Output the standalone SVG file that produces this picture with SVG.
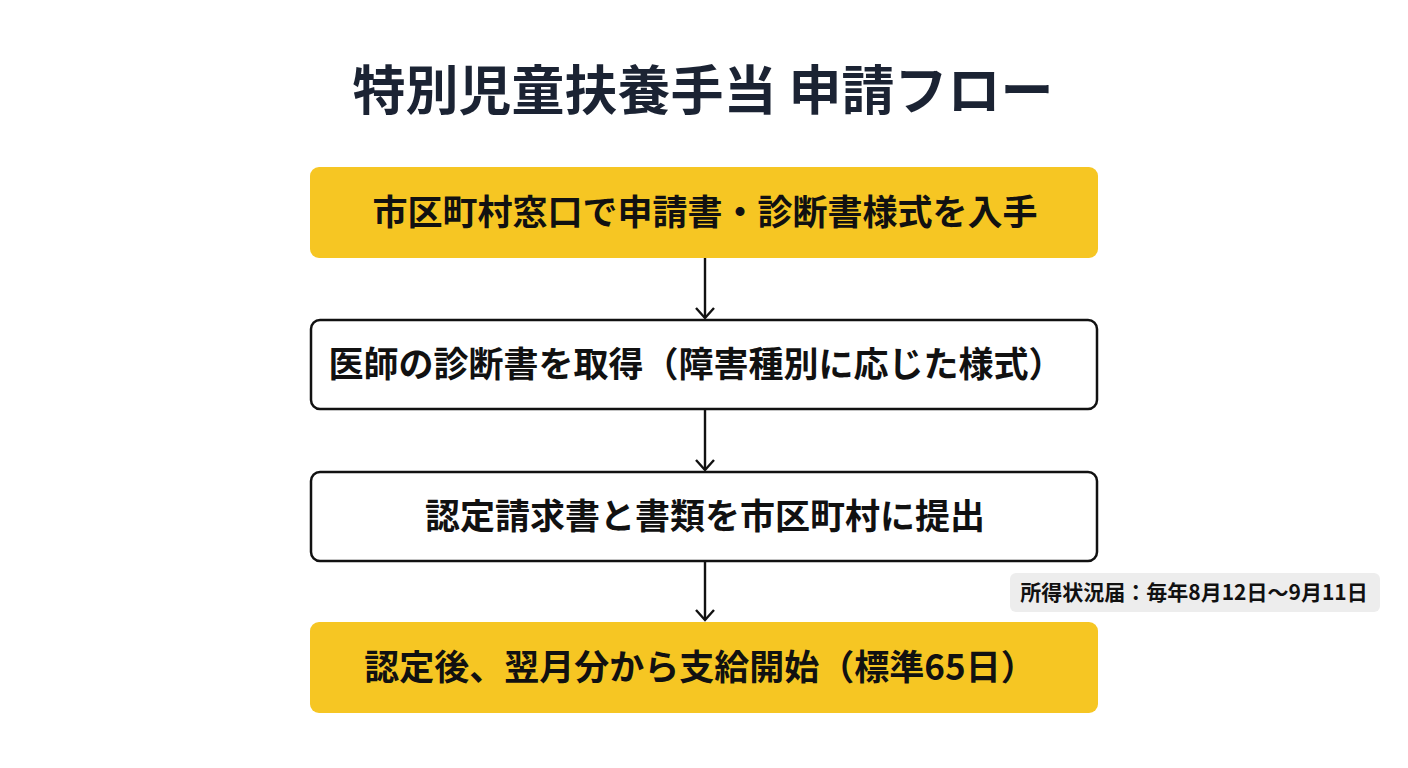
<svg xmlns="http://www.w3.org/2000/svg" width="1408" height="768" viewBox="0 0 1408 768">
<defs>
<marker id="ah" viewBox="0 0 20 20" refX="18" refY="10" markerWidth="20" markerHeight="20" markerUnits="userSpaceOnUse" orient="auto">
<path d="M8 1 L18 10 L8 19" fill="none" stroke="#111" stroke-width="2.4"/>
</marker>
<style>
text{font-family:"Noto Sans CJK JP","Noto Sans",sans-serif;font-weight:700;text-anchor:middle;fill:#111}
.y{fill:#f6c623}
.w{fill:#fff;stroke:#111;stroke-width:2.5}
.t{font-size:35px}
.c{stroke:#111;stroke-width:2.4;fill:none}
</style>
</defs>
<rect width="1408" height="768" fill="#fff"/>
<text x="703" y="110" style="font-size:53px;fill:#1b2333">特別児童扶養手当 申請フロー</text>
<g id="n1"><rect class="y" x="310" y="167" width="788" height="91" rx="9"/><text class="t" x="705" y="225">市区町村窓口で申請書・診断書様式を入手</text></g>
<g id="n2"><rect class="w" x="311" y="320" width="786" height="89" rx="9"/><text class="t" x="696" y="377">医師の診断書を取得（障害種別に応じた様式）</text></g>
<g id="n3"><rect class="w" x="311" y="472" width="786" height="89" rx="9"/><text class="t" x="705" y="529">認定請求書と書類を市区町村に提出</text></g>
<g id="n4"><rect class="y" x="310" y="622" width="788" height="91" rx="9"/><text class="t" x="700" y="680">認定後、翌月分から支給開始（標準65日）</text></g>
<g id="note"><rect x="1010" y="573" width="370" height="39" rx="6" fill="#ededed"/><text x="1194" y="600" style="font-size:21px">所得状況届：毎年8月12日〜9月11日</text></g>
<g id="connectors">
<line class="c" x1="705" y1="258" x2="705" y2="318" marker-end="url(#ah)"/>
<line class="c" x1="705" y1="409" x2="705" y2="470" marker-end="url(#ah)"/>
<line class="c" x1="705" y1="561" x2="705" y2="620" marker-end="url(#ah)"/>
</g>
</svg>
